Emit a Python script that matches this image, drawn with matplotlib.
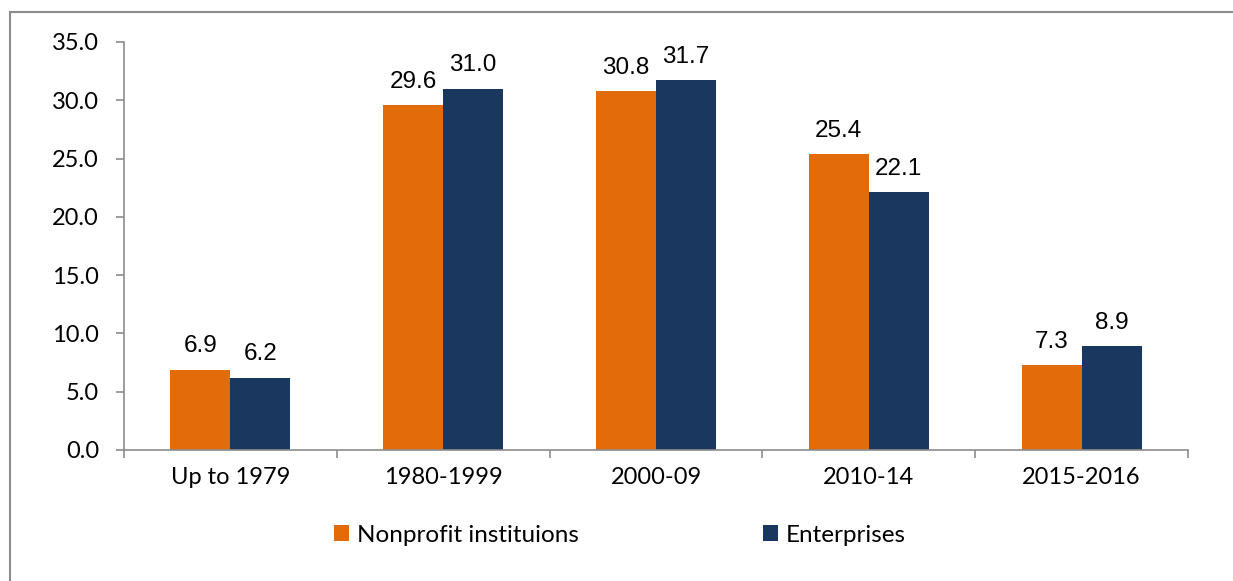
import matplotlib.pyplot as plt
import matplotlib.patches as patches
import numpy as np

# data
periods = ['Up to 1979', '1980-1999', '2000-09', '2010-14', '2015-2016']
nonprofit = [6.9, 29.6, 30.8, 25.4, 7.3]
enterprises = [6.2, 31.0, 31.7, 22.1, 8.9]
series_names = ['Nonprofit instituions', 'Enterprises']

W, H = 1233, 581
fig = plt.figure(figsize=(W / 100, H / 100), dpi=100)
ax = fig.add_axes([124 / W, 1 - 450 / H, (1188 - 124) / W, (450 - 42) / H])

# outer frame
fig.add_artist(patches.Rectangle((10 / W, -0.1), 1.2, 1 - 12 / H + 0.1,
                                 transform=fig.transFigure, fill=False,
                                 edgecolor='#8c8c8c', linewidth=1.5))

x = np.arange(len(periods))
bw = 0.282
b1 = ax.bar(x - bw / 2, nonprofit, bw, color='#E36C0A', label=series_names[0])
b2 = ax.bar(x + bw / 2, enterprises, bw, color='#1A3760', label=series_names[1])

for bars in (b1, b2):
    for b in bars:
        ax.annotate(f'{b.get_height():.1f}',
                    (b.get_x() + b.get_width() / 2, b.get_height()),
                    xytext=(0, 12.5), textcoords='offset points',
                    ha='center', va='baseline',
                    fontsize=17.5, family='Liberation Sans')

ax.set_xlim(-0.5, len(periods) - 0.5)
ax.set_ylim(0, 35)
ax.set_yticks(np.arange(0, 36, 5))
ax.set_yticklabels([f'{v:.1f}' for v in np.arange(0, 36, 5)],
                   fontsize=17, family='Lato')
ax.set_xticks(x)
ax.set_xticklabels(periods, fontsize=17, family='Lato')
ax.set_xticks(np.arange(-0.5, len(periods)), minor=True)
ax.tick_params(axis='x', which='major', length=0, pad=12)
ax.tick_params(axis='x', which='minor', length=6, color='#8c8c8c', width=1.2)
ax.tick_params(axis='y', length=6, color='#8c8c8c', width=1.2, pad=12)

for s in ['top', 'right']:
    ax.spines[s].set_visible(False)
for s in ['left', 'bottom']:
    ax.spines[s].set_color('#8c8c8c')
    ax.spines[s].set_linewidth(1.2)

leg = fig.legend(loc='center', bbox_to_anchor=(620 / W, 1 - 535 / H), ncol=2,
                 frameon=False, prop={'family': 'Lato', 'size': 17.5},
                 handlelength=0.62, handleheight=0.62, handletextpad=0.3,
                 columnspacing=7.6)

fig.savefig('out.png', dpi=100)
